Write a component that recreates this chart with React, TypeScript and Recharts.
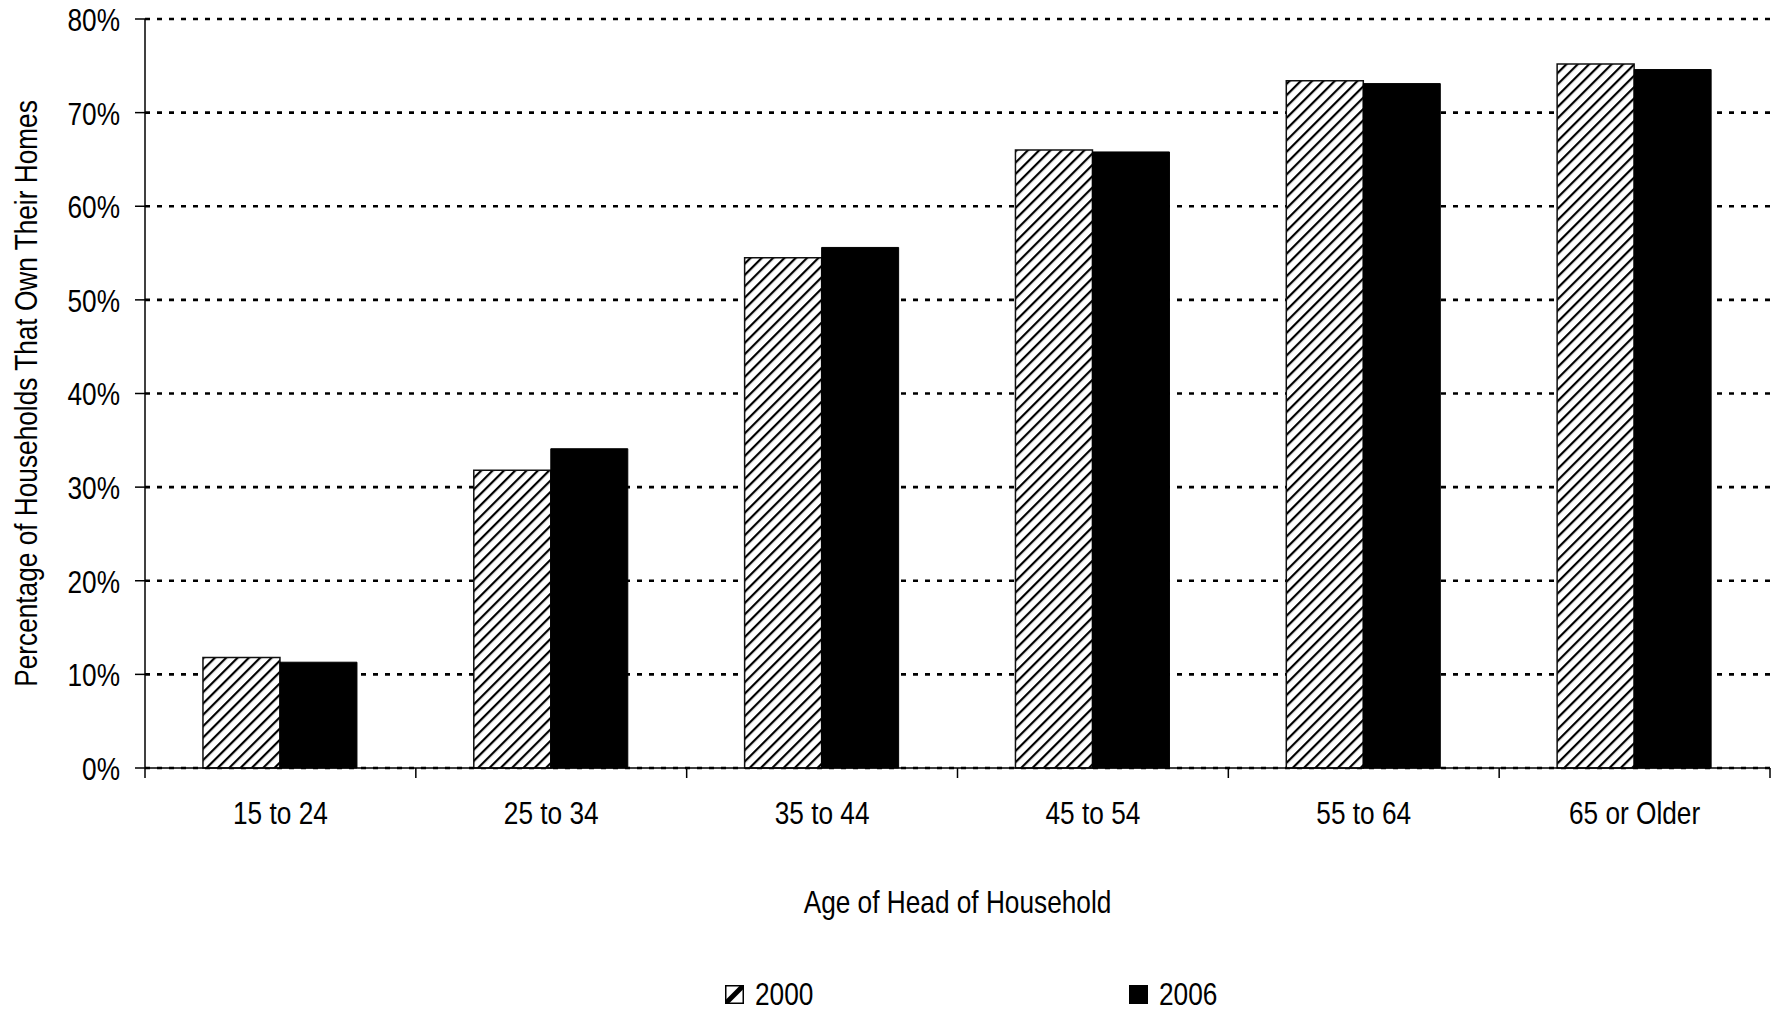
import { BarChart, Bar, XAxis, YAxis, CartesianGrid, Legend, Label } from "recharts";

const categories = ["15 to 24", "25 to 34", "35 to 44", "45 to 54", "55 to 64", "65 or Older"];
const values2000 = [11.8, 31.8, 54.5, 66.0, 73.4, 75.2];
const values2006 = [11.3, 34.1, 55.6, 65.8, 73.1, 74.6];
const yTicks = [0, 10, 20, 30, 40, 50, 60, 70, 80];
const seriesNames = ["2000", "2006"];

const data = categories.map((age, i) => ({ age, y2000: values2000[i], y2006: values2006[i] }));

const W = 1776;
const H = 1011;
// no narrow font installed: squeeze Liberation Sans horizontally instead
const FONT = '"Liberation Sans", Arial, sans-serif';
const SQUEEZE = 0.82;
const FONT_SIZE = 32;
const Y_AXIS_W = 145;
const MARGIN = { top: 19, right: 6, bottom: 0, left: 0 };
const HALF_BAND = (W - Y_AXIS_W - MARGIN.right) / categories.length / 2;

function NarrowText({ x, y, anchor, rotate = 0, children }: any) {
  return (
    <text
      transform={`translate(${x},${y}) rotate(${rotate}) scale(${SQUEEZE},1)`}
      textAnchor={anchor}
      dominantBaseline="central"
      fill="#000"
      fontSize={FONT_SIZE}
      fontFamily={FONT}
    >
      {children}
    </text>
  );
}

// category boundary ticks + centred label
function AgeTick(props: any) {
  const { x, y, payload, index } = props;
  const last = index === categories.length - 1;
  return (
    <g>
      <line x1={x - HALF_BAND} x2={x - HALF_BAND} y1={y} y2={y + 10} stroke="#000" strokeWidth={1.5} />
      {last && <line x1={x + HALF_BAND} x2={x + HALF_BAND} y1={y} y2={y + 10} stroke="#000" strokeWidth={1.5} />}
      <NarrowText x={x} y={y + 45} anchor="middle">{payload.value}</NarrowText>
    </g>
  );
}

function PctTick(props: any) {
  const { x, y, payload } = props;
  return <NarrowText x={x} y={y + 1} anchor="end">{`${payload.value}%`}</NarrowText>;
}

function XTitle(props: any) {
  const vb = props.viewBox;
  return <NarrowText x={vb.x + vb.width / 2} y={vb.y + 134} anchor="middle">{props.value}</NarrowText>;
}

function YTitle(props: any) {
  const vb = props.viewBox;
  return <NarrowText x={vb.x + 26} y={vb.y + vb.height / 2} anchor="middle" rotate={-90}>{props.value}</NarrowText>;
}

function LegendSwatch({ hatched }: { hatched: boolean }) {
  return (
    <svg width={19} height={19} style={{ position: "absolute", left: 0, top: 7 }}>
      <rect x={0.75} y={0.75} width={17.5} height={17.5} fill={hatched ? "#fff" : "#000"} stroke="#000" strokeWidth={1.5} />
      {hatched && <line x1={1} y1={18} x2={18} y2={1} stroke="#000" strokeWidth={5} />}
    </svg>
  );
}

function BottomLegend() {
  return (
    <div style={{ position: "relative", height: 33, fontFamily: FONT, fontSize: FONT_SIZE, color: "#000", lineHeight: "33px" }}>
      {seriesNames.map((name, i) => (
        <div key={name} style={{ position: "absolute", left: i * 404, top: 0, width: 120, height: 33 }}>
          <LegendSwatch hatched={i === 0} />
          <span style={{ position: "absolute", left: 30, top: 0, transform: `scaleX(${SQUEEZE})`, transformOrigin: "0 50%" }}>
            {name}
          </span>
        </div>
      ))}
    </div>
  );
}

export default function App() {
  return (
    <div style={{ position: "absolute", left: 0, top: 0, width: W, height: H, background: "#fff", fontFamily: FONT }}>
      <BarChart width={W} height={H} data={data} margin={MARGIN} barCategoryGap="21.4%" barGap={0}>
        <defs>
          <pattern id="hatch2000" patternUnits="userSpaceOnUse" width={8} height={8} patternTransform="rotate(45)">
            <rect width={8} height={8} fill="#fff" />
            <line x1={0} y1={0} x2={0} y2={8} stroke="#000" strokeWidth={4.4} />
          </pattern>
        </defs>
        <CartesianGrid vertical={false} stroke="#000" strokeDasharray="5 7" strokeWidth={2.6} />
        <XAxis
          dataKey="age"
          height={210}
          axisLine={{ stroke: "#000", strokeWidth: 1.5 }}
          tickLine={false}
          tickSize={0}
          tickMargin={0}
          tick={<AgeTick />}
          interval={0}
        >
          <Label value="Age of Head of Household" content={<XTitle />} />
        </XAxis>
        <YAxis
          width={Y_AXIS_W}
          domain={[0, 80]}
          ticks={yTicks}
          interval={0}
          axisLine={{ stroke: "#000", strokeWidth: 1.5 }}
          tickLine={{ stroke: "#000", strokeWidth: 1.5 }}
          tickSize={10}
          tickMargin={15}
          tick={<PctTick />}
        >
          <Label value="Percentage of Households That Own Their Homes" content={<YTitle />} />
        </YAxis>
        <Legend
          verticalAlign="bottom"
          content={<BottomLegend />}
          wrapperStyle={{ left: 725, top: 978, bottom: "auto", width: 520, height: 33 }}
        />
        <Bar dataKey="y2000" name={seriesNames[0]} fill="url(#hatch2000)" stroke="#111" strokeWidth={1.5} isAnimationActive={false} />
        <Bar dataKey="y2006" name={seriesNames[1]} fill="#000" stroke="#000" strokeWidth={1} isAnimationActive={false} />
      </BarChart>
    </div>
  );
}
